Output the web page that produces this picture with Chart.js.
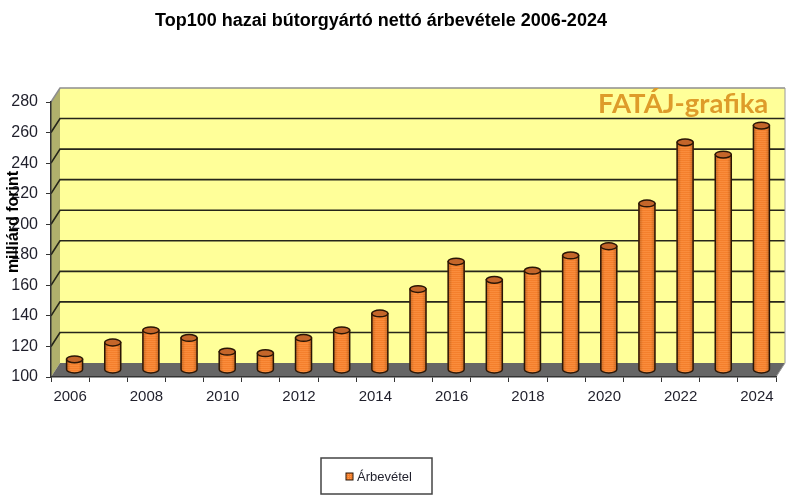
<!DOCTYPE html>
<html lang="hu">
<head>
<meta charset="utf-8">
<title>Top100 hazai bútorgyártó</title>
<script src="https://cdn.jsdelivr.net/npm/chart.js@4"></script>
<style>
  html, body { margin: 0; background: #fff; }
  canvas { display: block; }
</style>
</head>
<body>
<canvas id="chart" width="800" height="497"></canvas>
<script>
const years = ['2006','2007','2008','2009','2010','2011','2012','2013','2014','2015',
               '2016','2017','2018','2019','2020','2021','2022','2023','2024'];
const arbevetel = [107, 118, 126, 121, 112, 111, 121, 126, 137, 153,
                   171, 159, 165, 175, 181, 209, 249, 241, 260];
const seriesName = 'Árbevétel';
const chartTitle = 'Top100 hazai bútorgyártó nettó árbevétele 2006-2024';
const axisTitle = 'milliárd forint';
const watermark = 'FATÁJ-grafika';
const yMin = 100, yMax = 280, yStep = 20;

// 3D look: back wall is shifted from the axis plane by this much
const DEPTH_X = 9, DEPTH_Y = -14;
const TEXT = '#1f1f2b';
const SANS = '"Liberation Sans", Arial, sans-serif';

// dotted orange fill of the cylinders
function dotPattern() {
  const c = document.createElement('canvas');
  c.width = c.height = 2;
  const p = c.getContext('2d');
  p.fillStyle = '#F47F2C';
  p.fillRect(0, 0, 2, 2);
  p.fillStyle = '#FF9A4D';
  p.fillRect(0, 0, 1, 1);
  return document.getElementById('chart').getContext('2d').createPattern(c, 'repeat');
}
const barFill = dotPattern();

function poly(ctx, pts, fill) {
  ctx.beginPath();
  pts.forEach((p, i) => i ? ctx.lineTo(p[0], p[1]) : ctx.moveTo(p[0], p[1]));
  ctx.closePath();
  ctx.fillStyle = fill;
  ctx.fill();
}

const walls = {
  id: 'walls',
  beforeDraw(chart) {
    const { ctx, chartArea: a, scales: { y } } = chart;
    const dx = DEPTH_X, dy = DEPTH_Y;
    ctx.save();
    ctx.fillStyle = '#fff';
    ctx.fillRect(0, 0, chart.width, chart.height);
    poly(ctx, [[a.left + dx, a.top + dy], [a.right + dx, a.top + dy], [a.right + dx, a.bottom + dy], [a.left + dx, a.bottom + dy]], '#FFFF99');
    poly(ctx, [[a.left, a.top], [a.left + dx, a.top + dy], [a.left + dx, a.bottom + dy], [a.left, a.bottom]], '#B0B06C');
    poly(ctx, [[a.left, a.bottom], [a.right, a.bottom], [a.right + dx, a.bottom + dy], [a.left + dx, a.bottom + dy]], '#666666');

    y.ticks.forEach(t => {
      if (t.value === y.min) return;
      const py = y.getPixelForValue(t.value);
      ctx.beginPath();
      ctx.moveTo(a.left, py);
      ctx.lineTo(a.left + dx, py + dy);
      ctx.lineTo(a.right + dx, py + dy);
      ctx.strokeStyle = t.value === y.max ? '#8f8f8f' : '#26261a';
      ctx.lineWidth = 1.6;
      ctx.stroke();
    });
    ctx.beginPath();
    ctx.moveTo(a.right + dx, a.top + dy);
    ctx.lineTo(a.right + dx, a.bottom + dy);
    ctx.lineTo(a.right, a.bottom);
    ctx.strokeStyle = '#9a9a9a';
    ctx.lineWidth = 1;
    ctx.stroke();
    ctx.restore();
  }
};

// bars stand in the middle of the floor, so they are moved half the depth
const cylinders = {
  id: 'cylinders',
  beforeDatasetsDraw(chart) {
    chart.ctx.save();
    chart.ctx.translate(DEPTH_X / 2, DEPTH_Y / 2);
  },
  afterDatasetsDraw(chart) {
    const ctx = chart.ctx;
    chart.getDatasetMeta(0).data.forEach(bar => {
      const r = bar.width / 2, ry = 3.4;
      ctx.lineWidth = 1.5;
      ctx.strokeStyle = '#2a1606';
      // body with round bottom
      ctx.beginPath();
      ctx.moveTo(bar.x - r, bar.y);
      ctx.lineTo(bar.x - r, bar.base);
      ctx.ellipse(bar.x, bar.base, r, ry, 0, Math.PI, 0, true);
      ctx.lineTo(bar.x + r, bar.y);
      ctx.closePath();
      ctx.fillStyle = barFill;
      ctx.fill();
      // darker edges
      const shade = ctx.createLinearGradient(bar.x - r, 0, bar.x + r, 0);
      shade.addColorStop(0, 'rgba(90,40,0,0.3)');
      shade.addColorStop(0.25, 'rgba(90,40,0,0)');
      shade.addColorStop(0.75, 'rgba(90,40,0,0)');
      shade.addColorStop(1, 'rgba(90,40,0,0.3)');
      ctx.fillStyle = shade;
      ctx.fill();
      ctx.stroke();
      // top cap
      ctx.beginPath();
      ctx.ellipse(bar.x, bar.y, r, ry, 0, 0, Math.PI * 2);
      ctx.fillStyle = '#C4662A';
      ctx.fill();
      ctx.stroke();
    });
    ctx.restore();
  }
};

const labels = {
  id: 'labels',
  afterDraw(chart) {
    const ctx = chart.ctx;
    ctx.save();
    ctx.textBaseline = 'alphabetic';

    ctx.fillStyle = '#000';
    ctx.font = 'bold 18px ' + SANS;
    ctx.textAlign = 'center';
    ctx.fillText(chartTitle, 381, 26);

    ctx.fillStyle = '#DE9C2A';
    ctx.font = 'bold 27.5px Lato, sans-serif';
    ctx.textAlign = 'left';
    ctx.fillText(watermark, 598, 113);

    ctx.save();
    ctx.translate(18, 222);
    ctx.rotate(-Math.PI / 2);
    ctx.fillStyle = '#000';
    ctx.font = 'bold 16px ' + SANS;
    ctx.textAlign = 'center';
    ctx.fillText(axisTitle, 0, 0);
    ctx.restore();

    // legend box
    ctx.fillStyle = '#fff';
    ctx.fillRect(321, 458, 111, 36);
    ctx.strokeStyle = '#444';
    ctx.lineWidth = 1.5;
    ctx.strokeRect(321, 458, 111, 36);
    ctx.fillStyle = barFill;
    ctx.fillRect(346, 473, 7, 7);
    ctx.strokeStyle = '#2a1606';
    ctx.lineWidth = 1;
    ctx.strokeRect(346, 473, 7, 7);
    ctx.fillStyle = TEXT;
    ctx.font = '13px ' + SANS;
    ctx.fillText(seriesName, 357, 481);
    ctx.restore();
  }
};

new Chart(document.getElementById('chart'), {
  type: 'bar',
  data: {
    labels: years,
    datasets: [{
      label: seriesName,
      data: arbevetel,
      base: yMin,
      backgroundColor: barFill,
      barThickness: 16,
      clip: false
    }]
  },
  options: {
    responsive: false,
    animation: false,
    layout: { padding: { top: 102, right: 24 } },
    plugins: { legend: { display: false }, title: { display: false }, tooltip: { enabled: false } },
    scales: {
      x: {
        afterFit: s => { s.height = 120; },
        grid: { offset: true, drawOnChartArea: false, color: '#333', tickLength: 5 },
        border: { color: '#333', width: 1.5 },
        ticks: {
          autoSkip: false,
          maxRotation: 0,
          padding: 6,
          color: TEXT,
          font: { family: SANS, size: 15 },
          callback: (v, i) => (i % 2 === 0 ? years[i] : '')
        }
      },
      y: {
        min: yMin,
        max: yMax,
        afterFit: s => { s.width = 51; },
        grid: { drawOnChartArea: false, color: '#333', tickLength: 5 },
        border: { color: '#333', width: 1.5 },
        ticks: {
          stepSize: yStep,
          padding: 8,
          color: TEXT,
          font: { family: SANS, size: 16 }
        }
      }
    }
  },
  plugins: [walls, cylinders, labels]
});
</script>
</body>
</html>
